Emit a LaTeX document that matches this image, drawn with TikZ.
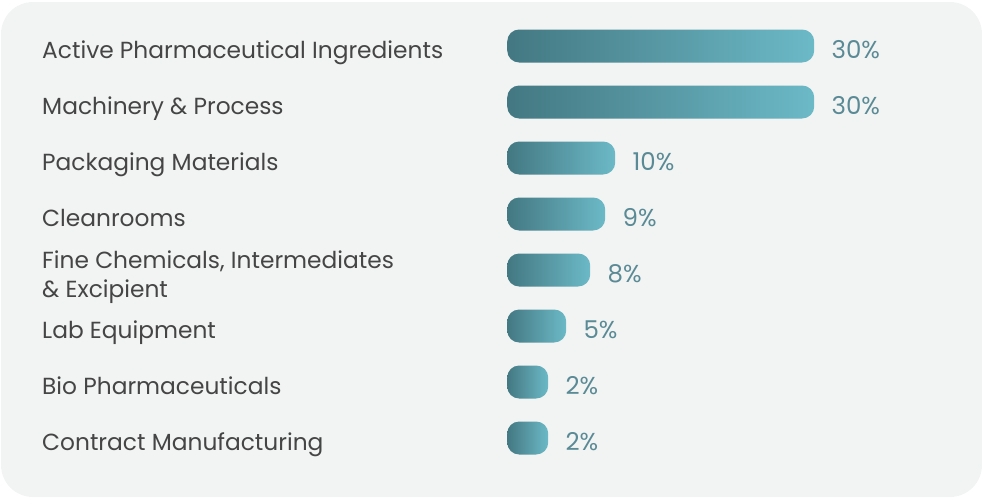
\documentclass[tikz,border=0pt]{standalone}
\usepackage{fontspec}
\setmainfont{Poppins}
\usepackage{xcolor}
\usetikzlibrary{positioning}

\definecolor{panelgrey}{HTML}{F2F4F3}
\definecolor{bardark}{HTML}{437882}
\definecolor{barlight}{HTML}{6CB9C7}
\definecolor{pctteal}{HTML}{5A8A95}
\definecolor{labelgrey}{HTML}{454545}

\begin{document}
\begin{tikzpicture}[x=1pt, y=-1pt,
    label/.style={anchor=base west, inner sep=0pt, text=labelgrey, align=left, font=\fontsize{23.3}{29}\selectfont},
    bar/.style={anchor=west, inner sep=0pt, minimum height=33pt, rounded corners=12pt, left color=bardark, right color=barlight},
    pct/.style={anchor=base west, inner sep=0pt, text=pctteal, font=\fontsize{24.5}{29}\selectfont}]

    \useasboundingbox (0,0) rectangle (982,498);
    \fill[panelgrey, rounded corners=32pt] (1,2) rectangle (982,497);

    % category names
    \node[label] (api) at (42,58) {Active Pharmaceutical Ingredients};
    \node[label] (machinery) at (42,114) {Machinery \& Process};
    \node[label] (packaging) at (42,170) {Packaging Materials};
    \node[label] (cleanrooms) at (42,226) {Cleanrooms};
    \node[label] (finechem) at (42,297) {Fine Chemicals, Intermediates\\\& Excipient};
    \node[label] (labequip) at (42,338) {Lab Equipment};
    \node[label] (biopharma) at (42,394) {Bio Pharmaceuticals};
    \node[label] (contract) at (42,450) {Contract Manufacturing};

    % bars
    \node[bar, minimum width=307pt] (barapi) at (507,46) {};
    \node[bar, minimum width=307pt] (barmachinery) at (507,102) {};
    \node[bar, minimum width=108pt] (barpackaging) at (507,158) {};
    \node[bar, minimum width=98pt] (barcleanrooms) at (507,214) {};
    \node[bar, minimum width=83pt] (barfinechem) at (507,270) {};
    \node[bar, minimum width=59pt] (barlabequip) at (507,326) {};
    \node[bar, minimum width=41pt] (barbiopharma) at (507,382) {};
    \node[bar, minimum width=41pt] (barcontract) at (507,438) {};

    % shares
    \node[pct] (pctapi) at ([shift={(17,12.5)}]barapi.east) {30\%};
    \node[pct] (pctmachinery) at ([shift={(17,12.5)}]barmachinery.east) {30\%};
    \node[pct] (pctpackaging) at ([shift={(17,12.5)}]barpackaging.east) {10\%};
    \node[pct] (pctcleanrooms) at ([shift={(17,12.5)}]barcleanrooms.east) {9\%};
    \node[pct] (pctfinechem) at ([shift={(17,12.5)}]barfinechem.east) {8\%};
    \node[pct] (pctlabequip) at ([shift={(17,12.5)}]barlabequip.east) {5\%};
    \node[pct] (pctbiopharma) at ([shift={(17,12.5)}]barbiopharma.east) {2\%};
    \node[pct] (pctcontract) at ([shift={(17,12.5)}]barcontract.east) {2\%};

\end{tikzpicture}
\end{document}
